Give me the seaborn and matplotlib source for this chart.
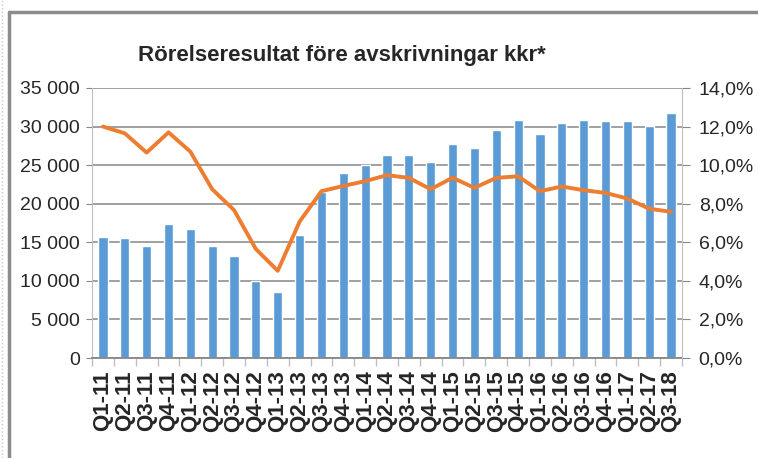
import numpy as np
import pandas as pd
import seaborn as sns
import matplotlib.pyplot as plt
from matplotlib.lines import Line2D
from matplotlib.ticker import FuncFormatter, FixedLocator

# data
quarters = ['Q1-11', 'Q2-11', 'Q3-11', 'Q4-11', 'Q1-12', 'Q2-12', 'Q3-12', 'Q4-12',
            'Q1-13', 'Q2-13', 'Q3-13', 'Q4-13', 'Q1-14', 'Q2-14', 'Q3-14', 'Q4-14',
            'Q1-15', 'Q2-15', 'Q3-15', 'Q4-15', 'Q1-16', 'Q2-16', 'Q3-16', 'Q4-16',
            'Q1-17', 'Q2-17', 'Q3-18']
ebitda_kkr = [15700, 15600, 14500, 17400, 16700, 14500, 13200, 10000,
              8600, 16000, 21500, 24000, 25000, 26300, 26300, 25400,
              27800, 27200, 29600, 30900, 29000, 30400, 30800, 30700,
              30700, 30100, 31800]
margin_pct = [12.0, 11.65, 10.65, 11.7, 10.7, 8.75, 7.67, 5.65,
              4.52, 7.07, 8.65, 8.92, 9.17, 9.48, 9.34, 8.75,
              9.35, 8.82, 9.34, 9.42, 8.65, 8.89, 8.70, 8.56,
              8.27, 7.74, 7.58]

df = pd.DataFrame({'kvartal': quarters, 'kkr': ebitda_kkr, 'marginal': margin_pct})

sns.set_style('white')
plt.rcParams['font.family'] = ['Liberation Sans', 'DejaVu Sans']

grid_col = '#868686'
spine_col = '#bfbfbf'

fig = plt.figure(figsize=(7.58, 4.58), dpi=100)
ax = fig.add_axes([0.1214, 0.2183, 0.7783, 0.5896])

sns.barplot(data=df, x='kvartal', y='kkr', color='#5B9BD5', width=0.42,
            saturation=1, ax=ax, zorder=2)
ax.set_ylim(0, 35000)
ax.set_xlim(-0.5, len(quarters) - 0.5)
ax.set_yticks(np.arange(0, 35001, 5000))
ax.yaxis.set_major_formatter(FuncFormatter(lambda v, p: f'{int(v):,}'.replace(',', ' ')))
ax.grid(axis='y', color=grid_col, linewidth=1.1, zorder=0)
ax.set_axisbelow(True)
ax.set_xlabel('')
ax.set_ylabel('')

ax2 = ax.twinx()
sns.lineplot(data=df, x='kvartal', y='marginal', color='#ED7D31', linewidth=2.8,
             sort=False, ax=ax2)
ax2.set_ylim(0, 14)
ax2.set_yticks(np.arange(0, 14.1, 2))
ax2.yaxis.set_major_formatter(FuncFormatter(lambda v, p: f'{v:.1f}%'.replace('.', ',')))
ax2.set_ylabel('')
ax2.set_xlim(-0.5, len(quarters) - 0.5)

for a in (ax, ax2):
    for s in a.spines.values():
        s.set_visible(False)
ax.spines['left'].set_visible(True)
ax.spines['left'].set_color(spine_col)
ax2.spines['right'].set_visible(True)
ax2.spines['right'].set_color(spine_col)
ax.spines['bottom'].set_visible(True)
ax.spines['bottom'].set_color(grid_col)
ax.spines['bottom'].set_linewidth(1.3)

ax.tick_params(axis='y', left=True, length=4.5, color=grid_col, labelsize=14, pad=4)
ax2.tick_params(axis='y', right=True, length=6, color=grid_col, labelsize=14, pad=6)
ax.tick_params(axis='x', which='major', length=0, labelsize=16, rotation=90, pad=9)
ax.xaxis.set_minor_locator(FixedLocator(np.arange(-0.5, len(quarters), 1)))
ax.tick_params(axis='x', which='minor', bottom=True, length=6, color=spine_col, width=1)
for lbl in ax.get_xticklabels():
    lbl.set_fontweight('bold')

fig.text(0.4505, 0.878, 'Rörelseresultat före avskrivningar kkr*', ha='center', va='center',
         fontsize=16, fontweight='bold')

# outer chart frame (top and left edges visible in the crop)
fig.add_artist(Line2D([9 / 758, 1], [1 - 12 / 458, 1 - 12 / 458], color='#8c8c8c', linewidth=2.5))
fig.add_artist(Line2D([9 / 758, 9 / 758], [0, 1 - 12 / 458], color='#8c8c8c', linewidth=2.5))
fig.add_artist(Line2D([2 / 758, 2 / 758], [0, 1], color='#c8c8c8', linewidth=1, linestyle=':'))

fig.savefig('out.png', dpi=100)
